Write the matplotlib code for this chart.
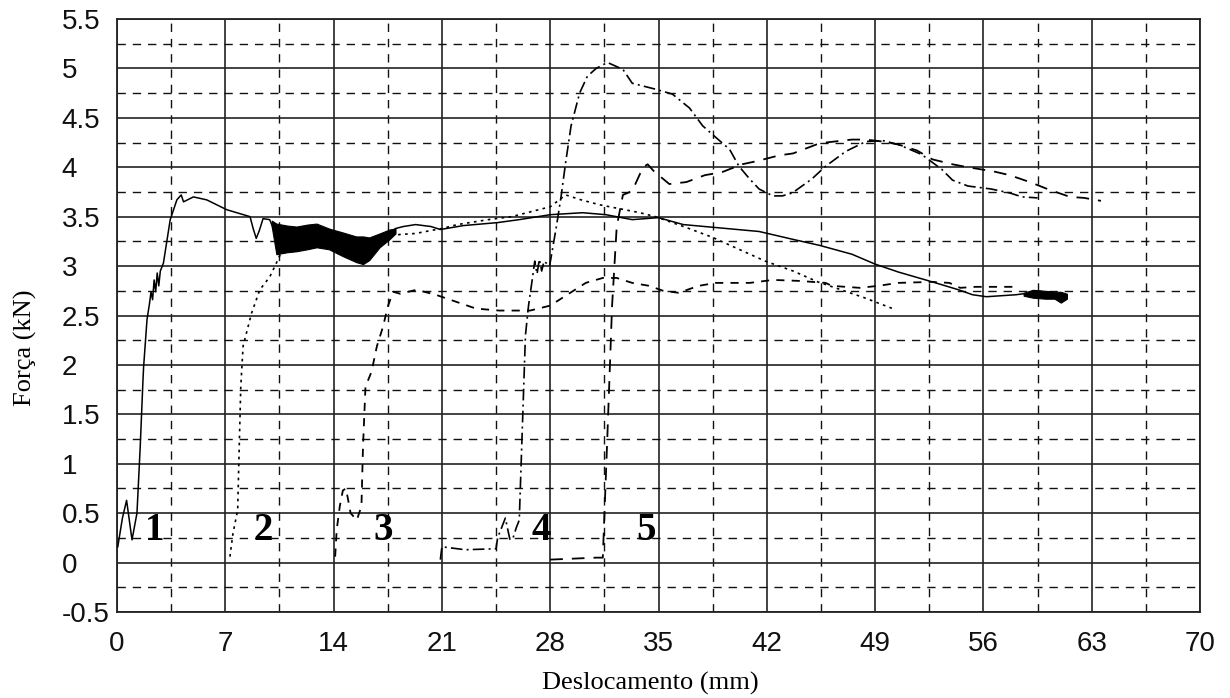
import numpy as np
import matplotlib
matplotlib.use("Agg")
import matplotlib.pyplot as plt

# ---------------- data ----------------
x_ticks = [0, 7, 14, 21, 28, 35, 42, 49, 56, 63, 70]
x_tick_labels = ["0", "7", "14", "21", "28", "35", "42", "49", "56", "63", "70"]
y_ticks = [-0.5, 0, 0.5, 1, 1.5, 2, 2.5, 3, 3.5, 4, 4.5, 5, 5.5]
y_tick_labels = ["-0.5", "0", "0.5", "1", "1.5", "2", "2.5", "3", "3.5", "4", "4.5", "5", "5.5"]

# curve 1 (solid)
c1_x = [0.05, 0.35, 0.62, 0.97, 1.29, 1.5, 1.68, 1.72, 1.94, 2.1, 2.2, 2.3, 2.4, 2.5, 2.6, 2.7,
        2.8, 3.0, 3.44, 3.87, 4.15, 4.3, 4.94, 5.8, 7.1, 8.17, 8.6, 8.8, 9.0, 9.2, 9.44, 9.87,
        10.3, 11.6, 12.9, 13.7, 14.6, 15.46, 16.3, 16.97, 17.6, 18.0, 18.5, 19.3, 20.3, 20.9,
        22.4, 24.6, 26.0, 28.0, 30.1, 31.6, 33.3, 35.0, 36.6, 38.7, 41.5, 43.7, 45.4, 47.5,
        49.0, 50.5, 52.7, 54.4, 55.3, 56.2, 58.1, 58.6, 59.5, 60.5, 61.4]
c1_y = [0.16, 0.45, 0.63, 0.23, 0.5, 1.17, 1.85, 1.98, 2.46, 2.62, 2.74, 2.66, 2.86, 2.74, 2.93,
        2.8, 2.95, 3.03, 3.47, 3.67, 3.72, 3.65, 3.70, 3.67, 3.57, 3.52, 3.50, 3.38, 3.28,
        3.36, 3.48, 3.47, 3.30, 3.28, 3.30, 3.28, 3.22, 3.17, 3.18, 3.26, 3.33, 3.38, 3.40,
        3.42, 3.40, 3.37, 3.41, 3.44, 3.47, 3.52, 3.54, 3.52, 3.47, 3.49, 3.42, 3.39, 3.35,
        3.27, 3.21, 3.12, 3.02, 2.94, 2.84, 2.76, 2.71, 2.69, 2.71, 2.72, 2.71, 2.70, 2.69]

# noisy envelopes of curve 1
band1_x = [10.0, 10.3, 11.0, 11.6, 12.3, 12.9, 13.7, 14.6, 15.46, 15.9, 16.3, 16.97, 17.6, 18.0]
band1_hi = [3.46, 3.43, 3.41, 3.40, 3.42, 3.43, 3.38, 3.34, 3.30, 3.30, 3.29, 3.33, 3.37, 3.38]
band1_lo = [3.40, 3.12, 3.14, 3.15, 3.17, 3.19, 3.17, 3.10, 3.04, 3.02, 3.06, 3.19, 3.27, 3.33]
band2_x = [58.6, 59.2, 60.0, 60.6, 61.0, 61.4]
band2_hi = [2.73, 2.76, 2.75, 2.74, 2.74, 2.72]
band2_lo = [2.70, 2.68, 2.67, 2.67, 2.63, 2.67]

# curve 2 (dotted)
c2_x = [7.3, 7.5, 7.8, 7.9, 8.0, 8.15, 8.69, 9.23, 9.87, 10.3, 10.5, 11.5, 13.0, 14.5, 15.5,
        16.5, 17.3, 18.3, 19.3, 20.3, 21.0, 22.0, 24.0, 25.5, 27.0, 28.0, 29.0, 30.0, 31.2,
        33.8, 34.8, 36.8, 38.5, 40.2, 41.9, 43.7, 45.3, 46.8, 48.3, 50.3]
c2_y = [0.06, 0.30, 0.53, 1.17, 1.78, 2.19, 2.52, 2.76, 2.89, 3.03, 3.10, 3.28, 3.30, 3.25,
        3.18, 3.22, 3.30, 3.32, 3.33, 3.36, 3.38, 3.42, 3.47, 3.50, 3.56, 3.60, 3.72, 3.67,
        3.62, 3.54, 3.50, 3.39, 3.29, 3.17, 3.05, 2.95, 2.84, 2.76, 2.68, 2.56]

# curve 3 (dashed)
c3_x = [14.1, 14.2, 14.4, 14.6, 14.8, 15.1, 15.5, 15.8, 15.9, 16.06, 16.45, 16.8, 17.2, 17.5,
        17.85, 18.3, 19.35, 20.6, 21.9, 23.2, 24.7, 25.8, 26.7, 28.0, 29.0, 30.3, 31.4, 32.3,
        33.3, 34.4, 35.3, 36.3, 37.6, 38.7, 40.9, 42.4, 44.1, 45.8, 46.2, 48.0, 49.2, 50.5,
        52.7, 53.8, 54.5, 55.5, 56.4, 57.9, 58.3]
c3_y = [0.06, 0.33, 0.57, 0.73, 0.75, 0.50, 0.43, 0.57, 1.17, 1.78, 1.93, 2.19, 2.39, 2.59,
        2.74, 2.72, 2.76, 2.71, 2.64, 2.57, 2.55, 2.55, 2.55, 2.60, 2.70, 2.83, 2.88, 2.88,
        2.83, 2.80, 2.75, 2.73, 2.80, 2.83, 2.83, 2.86, 2.85, 2.83, 2.80, 2.78, 2.80, 2.83,
        2.84, 2.83, 2.78, 2.79, 2.79, 2.79, 2.76]

# curve 4 (dash-dot)
c4_x = [20.9, 21.0, 22.5, 24.5, 24.6, 25.1, 25.4, 25.6, 25.8, 26.0, 26.4, 26.6, 26.9, 27.0,
        27.15, 27.3, 27.45, 27.6, 27.96, 28.4, 28.7, 29.0, 29.35, 29.9, 30.4, 30.97, 31.7,
        32.7, 33.3, 34.8, 35.9, 37.0, 37.85, 38.5, 39.6, 40.2, 40.9, 41.5, 42.4, 43.0, 43.65,
        44.9, 45.8, 47.1, 48.4, 49.5, 50.5, 52.0, 53.3, 54.0, 55.0, 56.5, 57.7, 58.5, 59.5]
c4_y = [0.03, 0.16, 0.13, 0.14, 0.25, 0.45, 0.23, 0.25, 0.35, 0.43, 2.30, 2.60, 2.93, 3.05,
        2.92, 3.07, 2.95, 3.05, 3.00, 3.40, 3.70, 4.05, 4.42, 4.75, 4.92, 5.00, 5.06, 4.99,
        4.85, 4.79, 4.74, 4.60, 4.42, 4.33, 4.18, 4.01, 3.88, 3.78, 3.71, 3.71, 3.74, 3.88,
        4.01, 4.16, 4.26, 4.27, 4.23, 4.13, 3.98, 3.87, 3.81, 3.78, 3.74, 3.70, 3.69]

# curve 5 (long dashes)
c5_x = [28.0, 29.5, 31.0, 31.4, 31.7, 32.0, 32.3, 32.7, 33.3, 34.0, 34.3, 34.7, 35.7, 36.8,
        38.0, 39.1, 40.4, 41.3, 42.8, 43.7, 45.2, 45.8, 47.5, 48.4, 49.5, 50.5, 51.7, 52.7,
        54.0, 55.0, 56.6, 57.7, 59.0, 60.3, 61.6, 62.5, 63.6]
c5_y = [0.03, 0.04, 0.05, 0.05, 1.30, 2.60, 3.40, 3.72, 3.76, 4.00, 4.03, 3.96, 3.83, 3.85,
        3.92, 3.95, 4.03, 4.06, 4.12, 4.14, 4.23, 4.25, 4.28, 4.28, 4.26, 4.23, 4.17, 4.08,
        4.03, 4.00, 3.96, 3.92, 3.85, 3.77, 3.70, 3.69, 3.66]

curve_labels = ["1", "2", "3", "4", "5"]
label_x = [2.45, 9.45, 17.2, 27.4, 34.2]
label_y = [0.23, 0.23, 0.23, 0.23, 0.23]

# ---------------- figure ----------------
W, H = 1230, 698
fig = plt.figure(figsize=(W / 100, H / 100), dpi=100)
ax = fig.add_axes([117 / W, 1 - 612 / H, (1200 - 117) / W, (612 - 19) / H])

ax.set_xlim(0, 70)
ax.set_ylim(-0.5, 5.5)
ax.set_xticks(x_ticks)
ax.set_xticklabels(x_tick_labels, family="Liberation Sans")
ax.set_yticks(y_ticks)
ax.set_yticklabels(y_tick_labels, family="Liberation Sans")
ax.set_xticks(np.array(x_ticks[:-1]) + 3.5, minor=True)
ax.set_yticks(np.array(y_ticks[:-1]) + 0.25, minor=True)

ax.grid(which="major", color="#222222", lw=1.2, ls="-")
ax.grid(which="minor", color="#111111", lw=1.0, ls=(0, (6, 5)))
ax.set_axisbelow(True)

ax.tick_params(which="both", length=0)
ax.tick_params(axis="x", which="major", pad=14, labelsize=20, colors="#111111")
ax.tick_params(axis="y", which="major", pad=40, labelsize=20, colors="#111111")
for t in ax.get_yticklabels():
    t.set_horizontalalignment("left")
for s in ax.spines.values():
    s.set_color("#222222")
    s.set_linewidth(1.3)

k = "black"
ax.plot(c1_x, c1_y, color=k, lw=1.1, ls="-", zorder=3)
ax.fill_between(band1_x, band1_lo, band1_hi, color=k, lw=0.8, zorder=3)
ax.fill_between(band2_x, band2_lo, band2_hi, color=k, lw=0.8, zorder=3)
ax.plot(c2_x, c2_y, color=k, lw=1.2, ls=(0, (1.6, 2.6)), zorder=3)
ax.plot(c3_x, c3_y, color=k, lw=1.3, ls=(0, (4.5, 4)), zorder=3)
ax.plot(c4_x, c4_y, color=k, lw=1.2, ls=(0, (7, 2.5, 1.2, 2.5)), zorder=3)
ax.plot(c5_x, c5_y, color=k, lw=1.3, ls=(0, (7, 5)), zorder=3)

for lab, lx, ly in zip(curve_labels, label_x, label_y):
    ax.text(lx, ly, lab, family="Liberation Serif", fontweight="bold", fontsize=28,
            ha="center", va="baseline", zorder=4)

fig.text(650 / W, 1 - 690 / H, "Deslocamento (mm)", family="Liberation Serif",
         fontsize=19, ha="center", va="baseline")
fig.text(25 / W, 1 - 348 / H, "Força (kN)", family="Liberation Serif",
         fontsize=19, ha="center", va="center", rotation=90)

fig.savefig("out.png", dpi=100)
